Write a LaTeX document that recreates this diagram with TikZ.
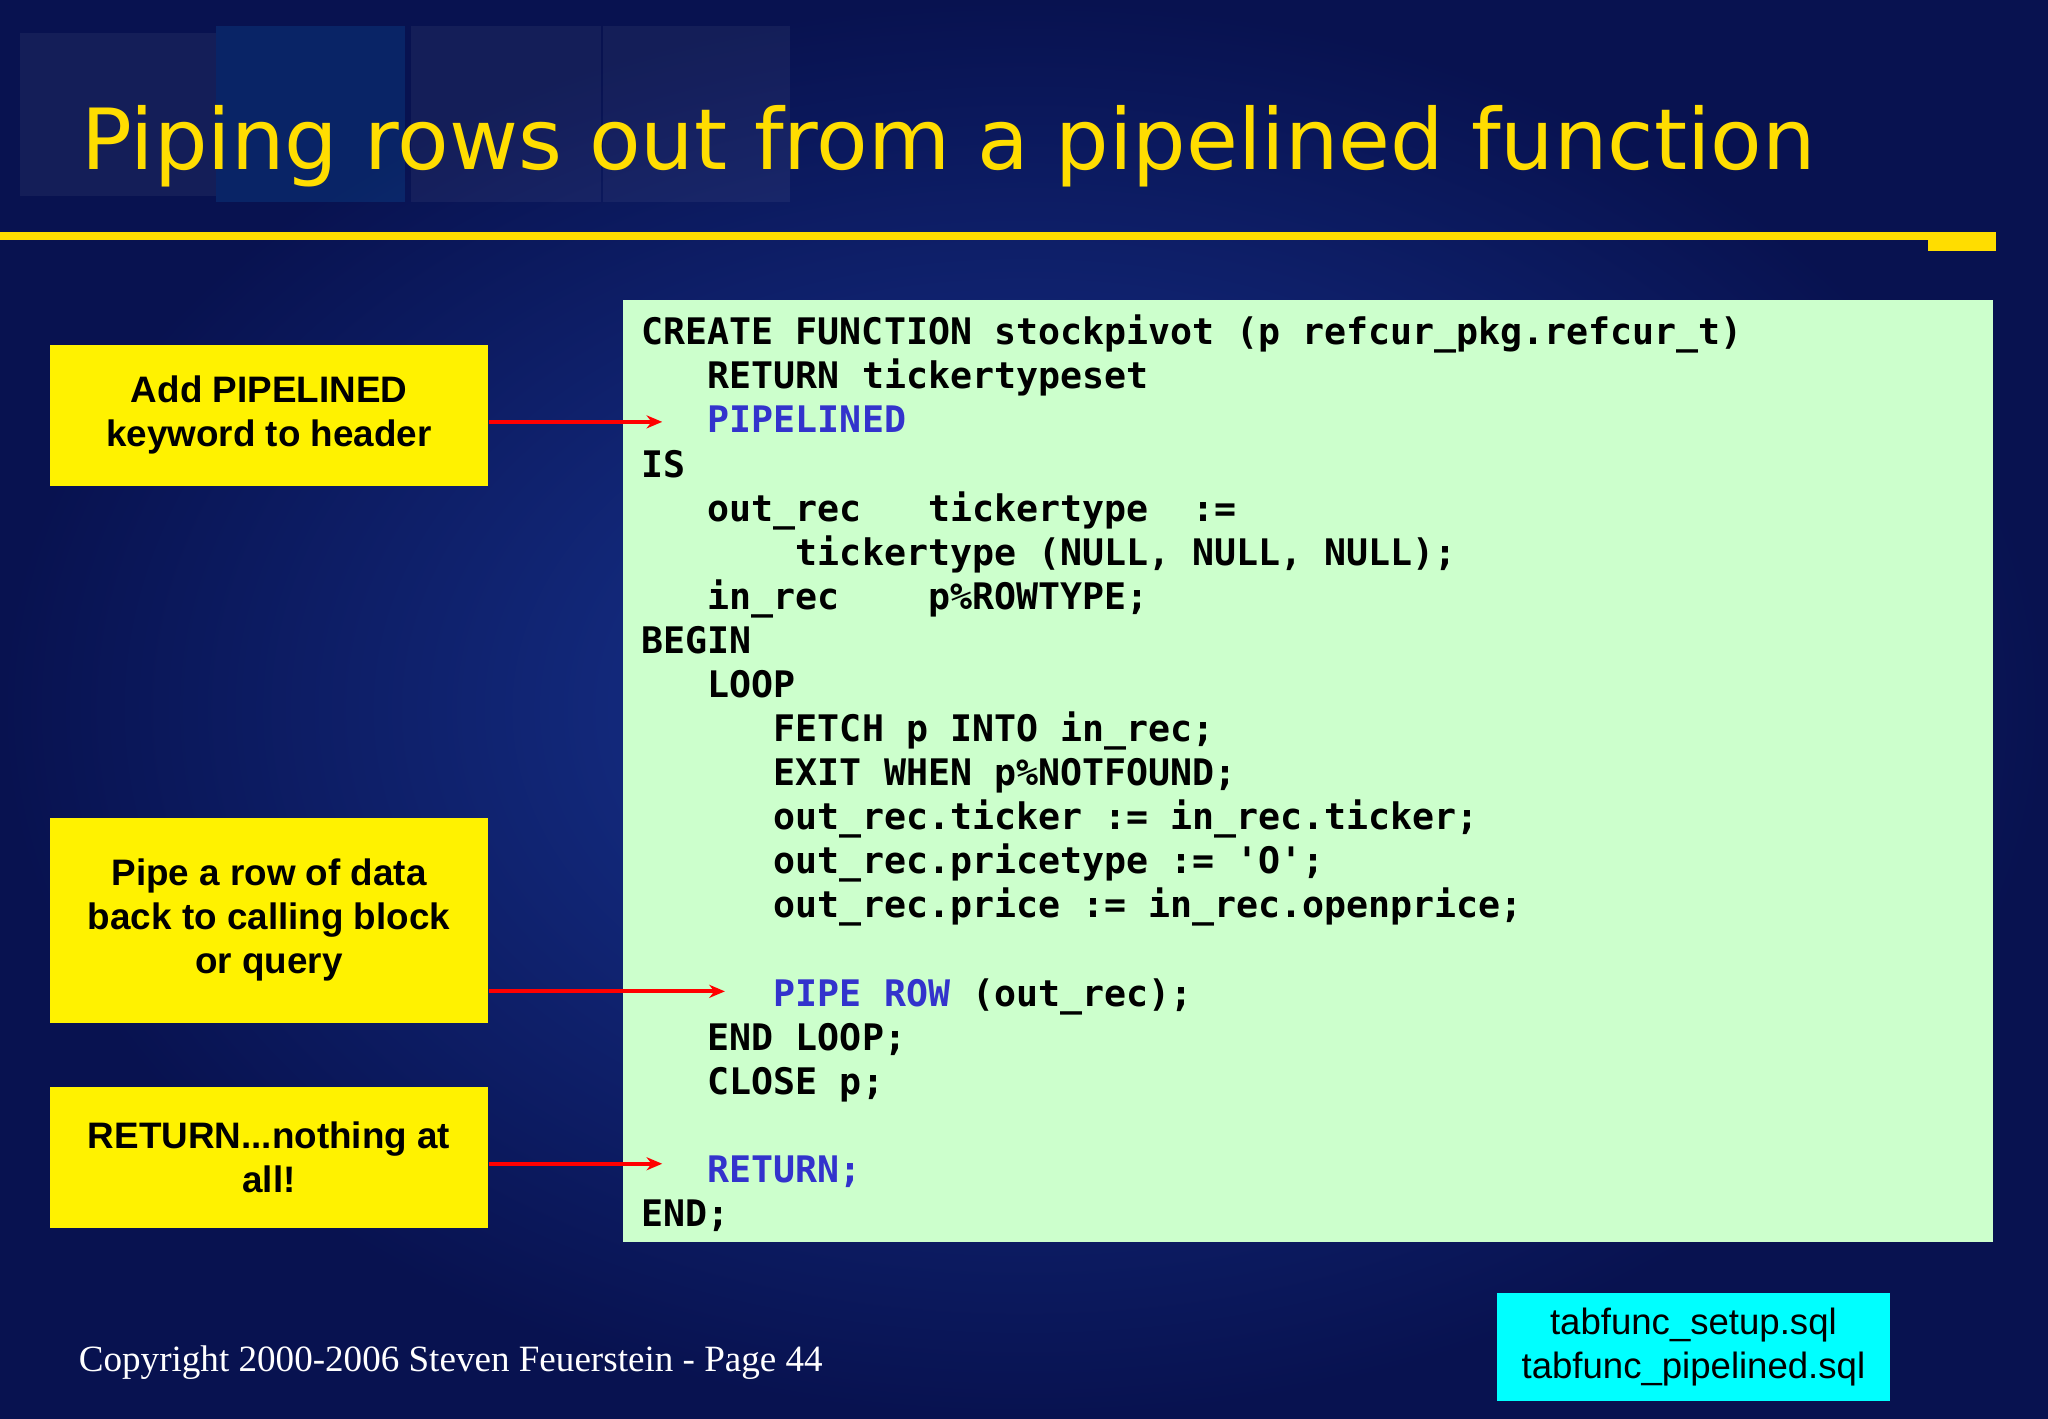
\documentclass[tikz,border=0pt]{standalone}
\usepackage{fontspec}
\setmainfont{Liberation Sans}
\newfontfamily\codef{DejaVu Sans Mono}
\newfontfamily\titlef{DejaVu Sans}
\newfontfamily\serf{Liberation Serif}
\definecolor{bgdark}{RGB}{8,18,80}
\definecolor{bgmid}{RGB}{25,55,150}
\definecolor{ttl}{RGB}{255,221,0}
\definecolor{codebg}{RGB}{204,255,204}
\definecolor{kw}{RGB}{51,51,204}
\definecolor{cyanbox}{RGB}{0,255,255}
\usetikzlibrary{arrows.meta}
\tikzset{
 note/.style={fill=yellow,draw=none,minimum width=168pt,align=center,font=\bfseries\fontsize{14.1}{16.8}\selectfont,text=black},
 arr/.style={red,line width=1.5pt,-{Stealth[length=6pt,width=5pt]}},
 codeline/.style={anchor=base west,inner sep=0pt,font=\codef\bfseries\fontsize{14}{16}\selectfont,text=black}
}
\newcommand{\kwd}[1]{\textcolor{kw}{#1}}
\begin{document}
\begin{tikzpicture}[x=0.5pt,y=-0.5pt]
\useasboundingbox (0,0) rectangle (1568,1086);
\shade[inner color=bgmid,outer color=bgdark] (0,0) rectangle (1568,1086);
\fill[white,opacity=0.05] (15,25) rectangle (165,150);
\fill[cyan!60!blue,opacity=0.18] (165,20) rectangle (310,155);
\fill[white,opacity=0.05] (315,20) rectangle (460,155);
\fill[white,opacity=0.05] (462,20) rectangle (605,155);
\node[anchor=base west,inner sep=0pt,text=ttl,font=\titlef\fontsize{32.3}{36}\selectfont] (title) at (62,130) {Piping rows out from a pipelined function};
\fill[ttl] (0,178) rectangle (1528,184);
\fill[ttl] (1476,184) rectangle (1528,192);
\fill[codebg] (477,230) rectangle (1526,951);
\foreach \t [count=\i] in {
 {CREATE FUNCTION stockpivot (p refcur\_pkg.refcur\_t)},
 {\ \ \ RETURN tickertypeset},
 {\ \ \ \kwd{PIPELINED}},
 {IS},
 {\ \ \ out\_rec\ \ \ tickertype\ \ :=},
 {\ \ \ \ \ \ \ tickertype (NULL, NULL, NULL);},
 {\ \ \ in\_rec\ \ \ \ p\%ROWTYPE;},
 {BEGIN},
 {\ \ \ LOOP},
 {\ \ \ \ \ \ FETCH p INTO in\_rec;},
 {\ \ \ \ \ \ EXIT WHEN p\%NOTFOUND;},
 {\ \ \ \ \ \ out\_rec.ticker := in\_rec.ticker;},
 {\ \ \ \ \ \ out\_rec.pricetype := 'O';},
 {\ \ \ \ \ \ out\_rec.price := in\_rec.openprice;},
 {},
 {\ \ \ \ \ \ \kwd{PIPE ROW} (out\_rec);},
 {\ \ \ END LOOP;},
 {\ \ \ CLOSE p;},
 {},
 {\ \ \ \kwd{RETURN;}},
 {END;}}
 { \node[codeline] (c\i) at (491,{264+33.75*(\i-1)}) {\t}; }
\node[note,minimum height=54pt] (n1) at (206,318) {Add PIPELINED\\keyword to header};
\node[note,minimum height=78.5pt] (n2) at (206,704.5) {Pipe a row of data\\back to calling block\\or query};
\node[note,minimum height=54pt] (n3) at (206,886) {RETURN...nothing at\\all!};
\coordinate (t1) at (507,323);
\coordinate (t2) at (555,759);
\coordinate (t3) at (507,891);
\draw[arr] (n1.east|-t1) -- (t1);
\draw[arr] (n2.east|-t2) -- (t2);
\draw[arr] (n3.east|-t3) -- (t3);
\node[anchor=base west,inner sep=0pt,text=white,font=\serf\fontsize{14.2}{16}\selectfont] (copy) at (60,1050) {Copyright 2000-2006 Steven Feuerstein - Page 44};
\node[fill=cyanbox,minimum width=150.5pt,minimum height=41.5pt,align=center,font=\fontsize{14}{17}\selectfont,text=black] (files) at (1296.5,1031.5) {tabfunc\_setup.sql\\tabfunc\_pipelined.sql};
\end{tikzpicture}
\end{document}
